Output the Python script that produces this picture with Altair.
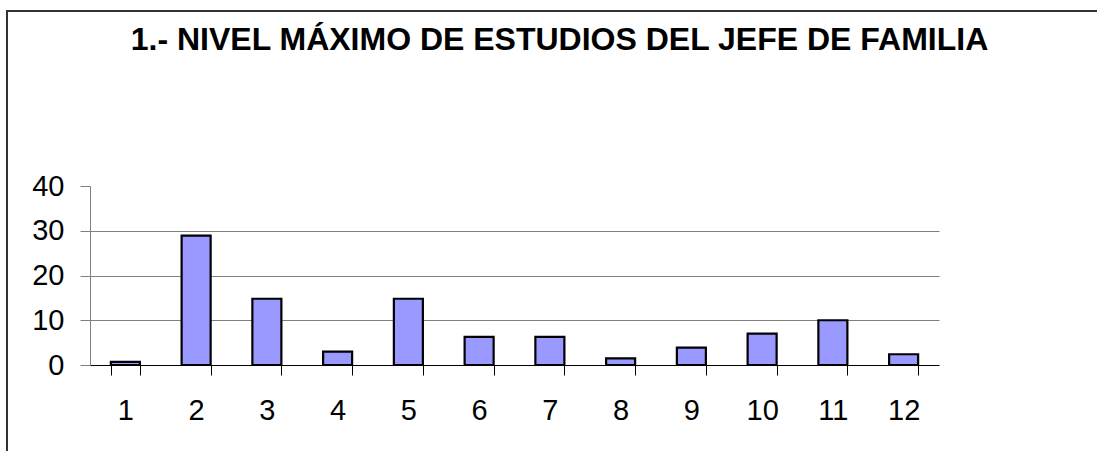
import altair as alt
import pandas as pd

categories = [str(i) for i in range(1, 13)]
values = [0.7, 28.9, 14.8, 3.0, 14.8, 6.3, 6.3, 1.5, 3.9, 7.0, 10.0, 2.4]
y_ticks = [0, 10, 20, 30, 40]
title_text = "1.- NIVEL MÁXIMO DE ESTUDIOS DEL JEFE DE FAMILIA"

df = pd.DataFrame({"cat": categories, "val": values})
title_df = pd.DataFrame({"t": [title_text]})

FONT = "Liberation Sans"

x_enc = alt.X(
    "cat:N",
    sort=categories,
    title=None,
    scale=alt.Scale(paddingInner=0.59, paddingOuter=0.295),
    axis=alt.Axis(
        labelAngle=0,
        labelFont=FONT,
        labelFontSize=29,
        labelColor="black",
        labelPadding=21,
        tickBand="extent",
        tickSize=10,
        tickColor="black",
        domainColor="black",
        domainWidth=1,
        grid=False,
    ),
)

bars = alt.Chart(df).mark_bar(
    fill="#9999FF", stroke="black", strokeWidth=2.2
).encode(
    x=x_enc,
    y=alt.Y(
        "val:Q",
        title=None,
        scale=alt.Scale(domain=[0, 40], nice=False),
        axis=alt.Axis(
            values=y_ticks,
            labelFont=FONT,
            labelFontSize=29,
            labelColor="black",
            labelPadding=16,
            tickSize=10,
            tickColor="#808080",
            domainColor="#808080",
            grid=True,
            gridColor="#808080",
            gridWidth=1,
            gridOpacity={"condition": {"test": "datum.value === 40 || datum.value === 0", "value": 0}, "value": 1},
        ),
    ),
)

frame = alt.Chart(df).mark_rect(
    fill=None, stroke="#333333", strokeWidth=2, clip=False
).encode(
    x=alt.value(-83), x2=alt.value(1030), y=alt.value(-175), y2=alt.value(300)
)

title = alt.Chart(title_df).mark_text(
    font=FONT, fontSize=32, fontWeight="bold", color="black",
    align="center", baseline="alphabetic", clip=False
).encode(
    text="t:N", x=alt.value(469.5), y=alt.value(-136)
)

chart = alt.layer(frame, bars, title).properties(
    width=849,
    height=179,
    autosize=alt.AutoSizeParams(type="none"),
    padding={"left": 90, "top": 186, "right": 158, "bottom": 86},
).configure_view(stroke=None)

chart.save("out.html", embed_options={"renderer": "svg", "actions": False})
